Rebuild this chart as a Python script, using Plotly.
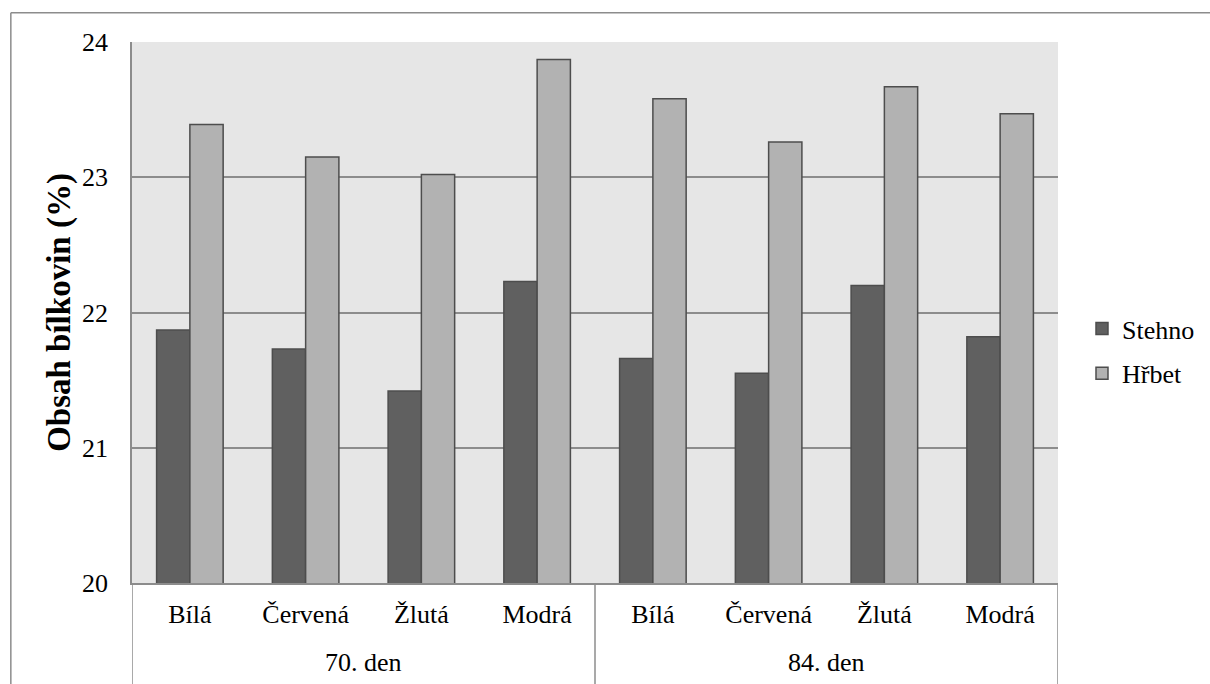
import plotly.graph_objects as go

# Protein content by colour group and sampling day
day_labels = ["70. den", "84. den"]
colours = ["Bílá", "Červená", "Žlutá", "Modrá", "Bílá", "Červená", "Žlutá", "Modrá"]
stehno = [21.87, 21.73, 21.42, 22.23, 21.66, 21.55, 22.20, 21.82]
hrbet = [23.39, 23.15, 23.02, 23.87, 23.58, 23.26, 23.67, 23.47]
y_ticks = [20, 21, 22, 23, 24]

W, H = 1210, 684
L, R, T, B = 131.7, 1058.0, 41.7, 583.0

FONT = "Liberation Serif"
EDGE = "#4d4d4d"
LINE = "#8c8c8c"

pos = list(range(len(colours)))
per_day = len(colours) // len(day_labels)


def px_x(x):
    return (x - L) / (R - L)


def px_y(y):
    return (B - y) / (B - T)


fig = go.Figure()
fig.add_trace(go.Bar(
    x=pos, y=stehno, name="Stehno",
    marker=dict(color="#606060", line=dict(color=EDGE, width=1.5)),
    legendgroup="a",
))
fig.add_trace(go.Bar(
    x=pos, y=hrbet, name="Hřbet",
    marker=dict(color="#b2b2b2", line=dict(color=EDGE, width=1.5)),
    legendgroup="b",
))

shapes = [
    # outer chart frame (left and top edges)
    dict(type="line", xref="paper", yref="paper",
         x0=px_x(10.5), x1=px_x(10.5), y0=px_y(12.5), y1=px_y(700),
         line=dict(color=LINE, width=1.5)),
    dict(type="line", xref="paper", yref="paper",
         x0=px_x(10.5), x1=px_x(1220), y0=px_y(12.5), y1=px_y(12.5),
         line=dict(color=LINE, width=1.5)),
]
annotations = []
for g, day in enumerate(day_labels):
    first = g * per_day
    last = first + per_day - 1
    # separator at the left edge of each day group
    shapes.append(dict(type="line", xref="x", yref="paper",
                       x0=first - 0.5, x1=first - 0.5, y0=0, y1=px_y(700),
                       line=dict(color=LINE, width=1.5)))
    annotations.append(dict(text=day, xref="x", yref="paper",
                            x=(first + last) / 2, y=px_y(663),
                            xanchor="center", yanchor="middle", showarrow=False,
                            font=dict(family=FONT, size=26, color="black")))
shapes.append(dict(type="line", xref="x", yref="paper",
                   x0=len(colours) - 0.5, x1=len(colours) - 0.5, y0=0, y1=px_y(700),
                   line=dict(color=LINE, width=1.5)))

fig.update_layout(
    width=W, height=H,
    margin=dict(l=L, r=W - R, t=T, b=H - B, autoexpand=False),
    paper_bgcolor="white",
    plot_bgcolor="#e6e6e6",
    font=dict(family=FONT, size=26, color="black"),
    barmode="group",
    bargap=0.425,
    bargroupgap=0,
    showlegend=True,
    legend=dict(x=px_x(1082), y=px_y(305), xanchor="left", yanchor="top",
                bgcolor="rgba(0,0,0,0)", font=dict(family=FONT, size=26),
                tracegroupgap=8, itemwidth=30),
    shapes=shapes,
    annotations=annotations,
)
fig.update_xaxes(
    range=[-0.5, len(colours) - 0.5],
    tickmode="array", tickvals=pos, ticktext=colours,
    showline=True, linecolor=LINE, linewidth=1.5,
    showgrid=False, zeroline=False,
    tickfont=dict(family=FONT, size=26),
    ticks="", ticklabelstandoff=7,
)
fig.update_yaxes(
    range=[20, 24], tickmode="array", tickvals=y_ticks,
    showline=True, linecolor=LINE, linewidth=1.5,
    showgrid=True, gridcolor=LINE, gridwidth=1.5,
    zeroline=False,
    ticks="", ticklabelstandoff=17,
    tickfont=dict(family=FONT, size=26),
    title=dict(text="<b>Obsah bílkovin (%)</b>",
               font=dict(family=FONT, size=33), standoff=1),
)

fig.write_html("out.html")
